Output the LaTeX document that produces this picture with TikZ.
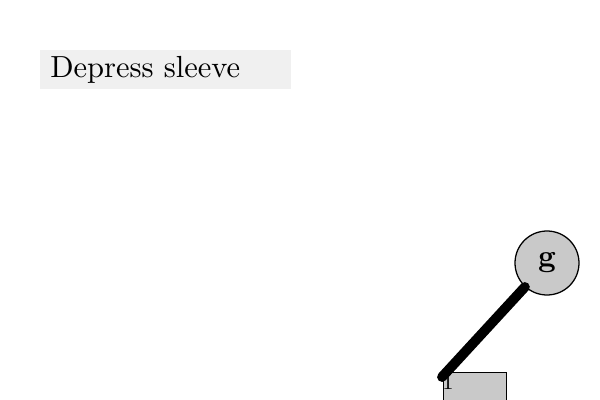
\documentclass[tikz,border=0pt]{standalone}
\usepackage{fontspec}
\newfontfamily\lmten[Extension=.otf,BoldFont=lmroman10-bold]{lmroman10-regular}
\begin{document}
\begin{tikzpicture}[x=0.025cm,y=-0.025cm,
  titlebox/.style={fill=black!6,draw=none,minimum width=251*0.025cm,minimum height=39*0.025cm,inner sep=0pt},
  ball/.style={circle,draw=black,line width=0.9pt,fill=black!21,minimum size=64*0.025cm,inner sep=0pt,font=\lmten\fontsize{22}{26}\selectfont\bfseries},
  block/.style={rectangle,draw=black,line width=1pt,fill=black!21,minimum width=63*0.025cm,minimum height=50*0.025cm,inner sep=0pt,anchor=north west},
  rod/.style={line width=7pt,line cap=round}]
\clip (0,0) rectangle (600,400);
\fill[white] (0,0) rectangle (600,400);
\node[titlebox] (title) at (165.5,69.5) {};
\node[anchor=west,inner sep=0pt,font=\lmten\fontsize{21.7}{26}\selectfont] (tt) at (50,70) {Depress sleeve};
\node[block] (blk) at (443,372) {};
\node[ball] (g) at (547,263) {g};
\coordinate (p) at (442,377);
\draw[rod] (p) -- (g);
\node[font=\lmten\fontsize{16}{18}\selectfont,inner sep=0pt] (one) at (448,382) {1};
\end{tikzpicture}
\end{document}
